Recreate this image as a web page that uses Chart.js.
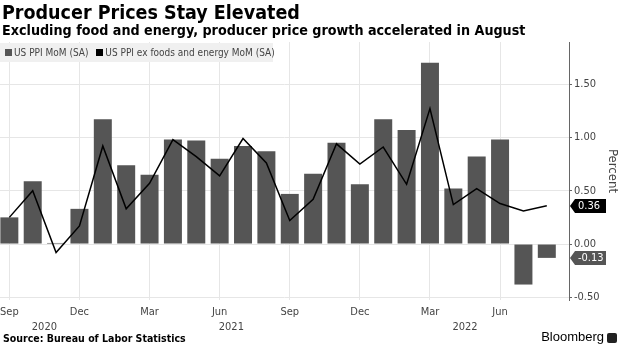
<!DOCTYPE html>
<html>
<head>
<meta charset="utf-8">
<script src="https://cdn.jsdelivr.net/npm/chart.js@4"></script>
<style>
  html, body { margin: 0; padding: 0; background: #fff; }
  #wrap { position: relative; width: 620px; height: 348px; overflow: hidden; font-family: 'DejaVu Sans Condensed', 'DejaVu Sans', sans-serif; }
  #chart { position: absolute; left: 0; top: 0; }
  .title { position: absolute; left: 2px; top: 1px; font-size: 19.5px; font-weight: bold; color: #000; white-space: nowrap; }
  .subtitle { position: absolute; left: 2px; top: 22px; font-size: 14.2px; font-weight: bold; color: #000; white-space: nowrap; }
  .legend { position: absolute; left: 0; top: 43px; width: 273px; height: 19px; background: #f0f0f0; font-size: 10px; color: #444; line-height: 19px; white-space: nowrap; }
  .legend span.sw { display: inline-block; width: 7px; height: 7px; margin: 0 2px 0 5px; vertical-align: 0px; }
  .source { position: absolute; left: 3px; top: 332px; font-size: 10.5px; font-weight: bold; color: #000; }
  .brand { position: absolute; right: 16px; top: 329px; font-size: 13px; color: #000; font-family: 'Liberation Sans', sans-serif; }
  .logo { position: absolute; right: 3px; top: 333px; width: 10px; height: 10px; background: #222; border-radius: 2px; }
</style>
</head>
<body>
<div id="wrap">
  <canvas id="chart" width="620" height="348"></canvas>
  <div class="title">Producer Prices Stay Elevated</div>
  <div class="subtitle">Excluding food and energy, producer price growth accelerated in August</div>
  <div class="legend"><span class="sw" style="background:#555"></span>US PPI MoM (SA) <span class="sw" style="background:#000"></span>US PPI ex foods and energy MoM (SA)</div>
  <div class="source">Source: Bureau of Labor Statistics</div>
  <div class="brand">Bloomberg</div>
  <div class="logo"></div>
</div>
<script>
// Monthly data, Sep 2020 .. Aug 2022
const months = ['Sep', 'Oct', 'Nov', 'Dec', 'Jan', 'Feb', 'Mar', 'Apr', 'May', 'Jun', 'Jul', 'Aug',
                'Sep', 'Oct', 'Nov', 'Dec', 'Jan', 'Feb', 'Mar', 'Apr', 'May', 'Jun', 'Jul', 'Aug'];
const years = [2020, 2020, 2020, 2020, 2021, 2021, 2021, 2021, 2021, 2021, 2021, 2021,
               2021, 2021, 2021, 2021, 2022, 2022, 2022, 2022, 2022, 2022, 2022, 2022];
const ppiMoM = [0.25, 0.59, 0.01, 0.33, 1.17, 0.74, 0.65, 0.98, 0.97, 0.80, 0.92, 0.87,
                0.47, 0.66, 0.95, 0.56, 1.17, 1.07, 1.70, 0.52, 0.82, 0.98, -0.38, -0.13];
const ppiCoreMoM = [0.25, 0.50, -0.08, 0.17, 0.92, 0.33, 0.57, 0.98, 0.82, 0.64, 0.99, 0.76,
                    0.22, 0.42, 0.94, 0.75, 0.91, 0.56, 1.27, 0.37, 0.52, 0.38, 0.31, 0.36];
const monthTicks = [0, 3, 6, 9, 12, 15, 18, 21];
const yTicks = [-0.5, 0, 0.5, 1.0, 1.5];

const barColor = '#555555';
const lineColor = '#000000';
const gridColor = '#e6e6e6';

// Year labels under the month ticks, centered on each year's months
const yearLabels = {
    id: 'yearLabels',
    afterDraw(chart) {
        const ctx = chart.ctx;
        const x = chart.scales.x;
        ctx.save();
        ctx.font = '11px "DejaVu Sans Condensed", "DejaVu Sans", sans-serif';
        ctx.fillStyle = '#444';
        ctx.textAlign = 'center';
        ctx.textBaseline = 'middle';
        [...new Set(years)].forEach(yr => {
            const idx = years.map((y, i) => y === yr ? i : -1).filter(i => i >= 0);
            const mid = (idx[0] + idx[idx.length - 1]) / 2;
            ctx.fillText(String(yr), x.getPixelForValue(mid), 327);
        });
        ctx.restore();
    }
};

// Last-value tags on the right axis
const lastValueTags = {
    id: 'lastValueTags',
    afterDraw(chart) {
        const ctx = chart.ctx;
        const y = chart.scales.y;
        const left = chart.chartArea.right + 1;
        const tags = [
            { v: ppiCoreMoM[ppiCoreMoM.length - 1], bg: '#000000' },
            { v: ppiMoM[ppiMoM.length - 1], bg: '#555555' }
        ];
        ctx.save();
        ctx.font = '11px "DejaVu Sans Condensed", "DejaVu Sans", sans-serif';
        ctx.textBaseline = 'middle';
        tags.forEach(t => {
            const py = Math.round(y.getPixelForValue(t.v));
            const h = 14, w = 36;
            ctx.fillStyle = t.bg;
            ctx.beginPath();
            ctx.moveTo(left, py);
            ctx.lineTo(left + 5, py - h / 2);
            ctx.lineTo(left + w, py - h / 2);
            ctx.lineTo(left + w, py + h / 2);
            ctx.lineTo(left + 5, py + h / 2);
            ctx.closePath();
            ctx.fill();
            ctx.fillStyle = '#fff';
            ctx.textAlign = 'left';
            ctx.fillText(t.v.toFixed(2), left + 8, py + 0.5);
        });
        ctx.restore();
    }
};

new Chart(document.getElementById('chart'), {
    data: {
        datasets: [
            {
                type: 'line',
                label: 'US PPI ex foods and energy MoM (SA)',
                data: ppiCoreMoM.map((v, i) => ({ x: i, y: v })),
                borderColor: lineColor,
                borderWidth: 1.5,
                pointRadius: 0,
                tension: 0,
                order: 0
            },
            {
                type: 'bar',
                label: 'US PPI MoM (SA)',
                data: ppiMoM.map((v, i) => ({ x: i, y: v })),
                backgroundColor: barColor,
                borderWidth: 0,
                barPercentage: 0.77,
                categoryPercentage: 1.0,
                order: 1
            }
        ]
    },
    options: {
        responsive: false,
        animation: false,
        layout: { padding: { top: 42, left: 0, right: 0, bottom: 0 } },
        plugins: {
            legend: { display: false },
            tooltip: { enabled: false }
        },
        scales: {
            x: {
                type: 'linear',
                offset: false,
                min: -0.4,
                max: 23.95,
                afterBuildTicks: scale => { scale.ticks = monthTicks.map(v => ({ value: v })); },
                afterFit: scale => {
                    scale.height = 48;
                    scale.paddingLeft = 0;
                    scale.paddingRight = 0;
                },
                grid: { color: gridColor, drawTicks: false, offset: false },
                border: { display: false },
                ticks: {
                    autoSkip: false,
                    maxRotation: 0,
                    padding: 6,
                    color: '#444',
                    font: { family: '"DejaVu Sans Condensed", "DejaVu Sans", sans-serif', size: 11 },
                    callback: value => months[value]
                }
            },
            y: {
                position: 'right',
                min: -0.525,
                max: 1.895,
                afterBuildTicks: scale => { scale.ticks = yTicks.map(v => ({ value: v })); },
                afterFit: scale => { scale.width = 51; },
                grid: { color: gridColor, tickLength: 3, tickColor: '#666' },
                border: { display: true, color: '#666', width: 1 },
                ticks: {
                    padding: 2,
                    color: '#444',
                    font: { family: '"DejaVu Sans Condensed", "DejaVu Sans", sans-serif', size: 11 },
                    callback: value => value.toFixed(2)
                },
                title: {
                    display: true,
                    text: 'Percent',
                    color: '#444',
                    padding: { top: 0, bottom: 2 },
                    font: { family: '"DejaVu Sans Condensed", "DejaVu Sans", sans-serif', size: 13 }
                }
            }
        }
    },
    plugins: [yearLabels, lastValueTags]
});
</script>
</body>
</html>
